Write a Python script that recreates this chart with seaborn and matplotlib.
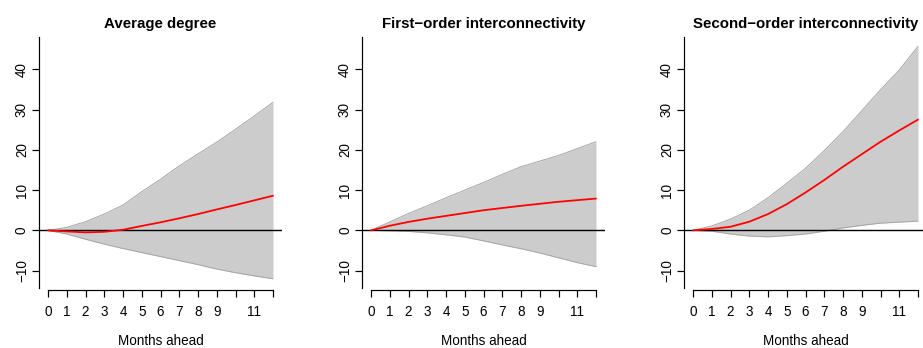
import numpy as np
import pandas as pd
import seaborn as sns
import matplotlib
matplotlib.use("Agg")
import matplotlib.pyplot as plt

# impulse responses, months 0..12
months = list(range(13))
tick_labels = ["0", "1", "2", "3", "4", "5", "6", "7", "8", "9", "", "11", ""]

avg_irf = [0, -0.25, -0.5, -0.35, 0.15, 1.1, 2.0, 3.0, 4.05, 5.2, 6.3, 7.45, 8.6]
avg_upper = [0, 0.75, 2.15, 4.06, 6.3, 9.6, 12.7, 16.0, 19.0, 21.9, 25.1, 28.4, 31.8]
avg_lower = [0, -0.9, -2.2, -3.4, -4.5, -5.5, -6.5, -7.5, -8.5, -9.6, -10.5, -11.3, -12.0]

first_irf = [0, 1.15, 2.1, 2.9, 3.6, 4.3, 5.0, 5.55, 6.1, 6.6, 7.1, 7.5, 7.9]
first_upper = [0, 2.1, 4.2, 6.1, 8.1, 10.0, 11.9, 13.9, 15.8, 17.2, 18.6, 20.3, 22.0]
first_lower = [0, -0.1, -0.25, -0.6, -1.1, -1.65, -2.6, -3.6, -4.55, -5.6, -6.8, -8.0, -9.0]

second_irf = [0, 0.35, 0.9, 2.15, 4.05, 6.5, 9.4, 12.5, 15.8, 18.9, 22.0, 24.8, 27.5]
second_upper = [0, 1.1, 2.8, 5.0, 8.1, 11.7, 15.4, 19.8, 24.5, 29.7, 34.9, 39.8, 45.7]
second_lower = [0, -0.2, -0.9, -1.4, -1.6, -1.3, -0.9, -0.2, 0.6, 1.25, 1.8, 2.05, 2.3]

titles = ["Average degree", "First\u2212order interconnectivity", "Second\u2212order interconnectivity"]
panels = [
    (avg_irf, avg_lower, avg_upper),
    (first_irf, first_lower, first_upper),
    (second_irf, second_lower, second_upper),
]

sns.set_style("ticks")
plt.rcParams["font.family"] = ["Liberation Sans", "DejaVu Sans"]
plt.rcParams["text.color"] = "black"
plt.rcParams["axes.labelcolor"] = "black"
plt.rcParams["axes.edgecolor"] = "black"

W, H = 923, 348
fig = plt.figure(figsize=(W / 72, H / 72), dpi=72)

# panel left edges in pixels
lefts = [39, 362, 684]
ax_w, top, bottom = 243, 37, 288

for left, title, (irf, lo, up) in zip(lefts, titles, panels):
    ax = fig.add_axes([left / W, (H - bottom) / H, ax_w / W, (bottom - top) / H])
    df = pd.DataFrame({"month": months, "irf": irf, "lower": lo, "upper": up})
    ax.fill_between(df["month"], df["lower"], df["upper"], color="#CCCCCC", lw=0)
    ax.plot(df["month"], df["upper"], color="#A6A6A6", lw=1)
    ax.plot(df["month"], df["lower"], color="#A6A6A6", lw=1)
    ax.axhline(0, color="black", lw=1.4)
    sns.lineplot(data=df, x="month", y="irf", color="red", lw=1.8, ax=ax)

    ax.set_xlim(-0.48, 12.48)
    ax.set_ylim(-14.3, 48.0)
    ax.set_xticks(months)
    ax.set_xticklabels(tick_labels)
    ax.set_yticks([-10, 0, 10, 20, 30, 40])
    ax.set_yticklabels(["\u221210", "0", "10", "20", "30", "40"], rotation=90, va="center")

    for side in ["top", "right"]:
        ax.spines[side].set_visible(False)
    ax.spines["left"].set_linewidth(1.2)
    ax.spines["bottom"].set_linewidth(1.2)
    ax.spines["bottom"].set_bounds(0, 12)
    ax.spines["bottom"].set_position(("outward", 2))
    ax.tick_params(axis="both", length=7, width=1.2, labelsize=13.5, colors="black")
    ax.tick_params(axis="x", pad=8)
    ax.tick_params(axis="y", pad=3)

    ax.set_title(title, fontsize=15, fontweight="bold", pad=9, color="black")
    ax.set_xlabel("Months ahead", fontsize=13.5)
    ax.xaxis.label.set_va("center")
    ax.xaxis.set_label_coords(0.5, (bottom - 341) / (bottom - top))
    ax.set_ylabel("")

fig.savefig("out.png", dpi=72)
